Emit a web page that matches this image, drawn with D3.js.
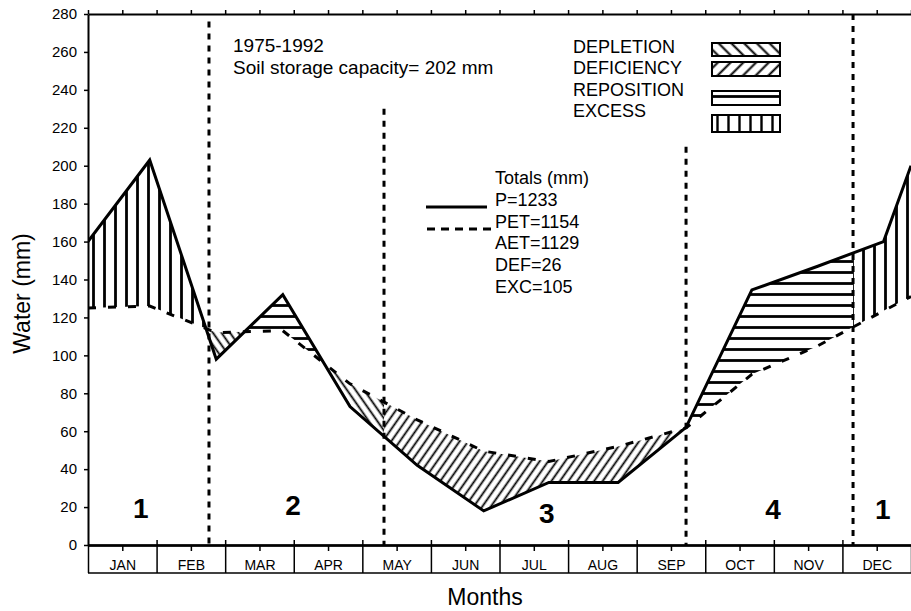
<!DOCTYPE html>
<html>
<head>
<meta charset="utf-8">
<script src="https://cdn.jsdelivr.net/npm/d3@7"></script>
<style>
  body { margin: 0; background: #fff; }
  text { font-family: "Liberation Sans", Arial, sans-serif; fill: #000; }
</style>
</head>
<body>
<div id="chart"></div>
<script>
// water balance, 1975-1992
var months = ["JAN", "FEB", "MAR", "APR", "MAY", "JUN", "JUL", "AUG", "SEP", "OCT", "NOV", "DEC"];

// where each observation sits along the axis (months from 1 Jan)
var obsMonth = [0, 0.9, 1.87, 2.84, 3.82, 4.8, 5.77, 6.72, 7.73, 8.72, 9.68, 10.64, 11.6, 12];
var precip = [160, 203, 98, 132, 73, 42, 18, 33, 33, 62, 134.5, 147, 160, 200];
var pet = [125, 126, 112, 113, 85, 66, 49.5, 44, 52, 61.7, 90, 105, 123.5, 131];

var yTicks = [0, 20, 40, 60, 80, 100, 120, 140, 160, 180, 200, 220, 240, 260, 280];

// periods of the balance, split by the dashed dividers
var periodEdge = [0, 1.764, 4.316, 8.72, 11.155, 12];
var periodName = ["1", "2", "3", "4", "1"];
var dividerTop = [276, 230, 210, 280];
var surplusKind = ["excess", "reposition", "reposition", "reposition", "excess"];
var deficitKind = ["depletion", "depletion", "deficiency", "deficiency", "depletion"];

var legendNames = ["DEPLETION", "DEFICIENCY", "REPOSITION", "EXCESS"];
var legendKinds = ["depletion", "deficiency", "reposition", "excess"];
var totalsText = ["Totals (mm)", "P=1233", "PET=1154", "AET=1129", "DEF=26", "EXC=105"];
var notes = ["1975-1992", "Soil storage capacity= 202 mm"];

var W = 911, H = 611;
var margin = {top: 14, right: 0, bottom: 66, left: 88};
var width = W - margin.left - margin.right,
    height = H - margin.top - margin.bottom;

var svg = d3.select("#chart").append("svg")
    .attr("width", W)
    .attr("height", H);

var defs = svg.append("defs");

function hatch(id, angle, gap, w) {
  var p = defs.append("pattern")
      .attr("id", id)
      .attr("patternUnits", "userSpaceOnUse")
      .attr("width", gap)
      .attr("height", gap)
      .attr("patternTransform", "rotate(" + angle + ")");
  p.append("line")
      .attr("x1", gap / 2).attr("x2", gap / 2)
      .attr("y1", 0).attr("y2", gap)
      .attr("stroke", "#000")
      .attr("stroke-width", w);
}
hatch("excess", 0, 11, 2.8);
hatch("reposition", 90, 11, 2.8);
hatch("deficiency", 35, 7, 1.8);
hatch("depletion", -35, 7, 1.8);
hatch("lg-depletion", -45, 9, 2);
hatch("lg-deficiency", 45, 9, 2);
hatch("lg-reposition", 90, 11, 2.8);
hatch("lg-excess", 0, 11, 2.4);

defs.append("clipPath").attr("id", "plot-clip")
  .append("rect").attr("width", width).attr("height", height);

var g = svg.append("g").attr("transform", "translate(" + margin.left + "," + margin.top + ")");

var x = d3.scaleLinear().domain([0, 12]).range([0, width]);
var y = d3.scaleLinear().domain([0, 280]).range([height, 0]);

function valueAt(arr, m) {
  for (var i = 0; i < obsMonth.length - 1; i++) {
    if (m >= obsMonth[i] && m <= obsMonth[i + 1]) {
      var t = (m - obsMonth[i]) / (obsMonth[i + 1] - obsMonth[i]);
      return arr[i] + t * (arr[i + 1] - arr[i]);
    }
  }
  return arr[arr.length - 1];
}

// break points: observations, P/PET crossings and period edges
var breaks = obsMonth.slice();
for (var i = 0; i < obsMonth.length - 1; i++) {
  var d0 = precip[i] - pet[i], d1 = precip[i + 1] - pet[i + 1];
  if (d0 * d1 < 0) {
    breaks.push(obsMonth[i] + d0 / (d0 - d1) * (obsMonth[i + 1] - obsMonth[i]));
  }
}
breaks = breaks.concat(periodEdge).sort(function(a, b) { return a - b; });

var area = d3.area()
    .x(function(d) { return x(d.m); })
    .y0(function(d) { return y(d.lo); })
    .y1(function(d) { return y(d.hi); });

var fills = g.append("g").attr("clip-path", "url(#plot-clip)");

for (var k = 0; k < periodName.length; k++) {
  var a = periodEdge[k], b = periodEdge[k + 1];
  var ms = breaks.filter(function(m) { return m >= a && m <= b; });
  var pts = ms.map(function(m) { return {m: m, p: valueAt(precip, m), e: valueAt(pet, m)}; });

  fills.append("path")
      .datum(pts.map(function(d) { return {m: d.m, lo: d.e, hi: Math.max(d.p, d.e)}; }))
      .attr("d", area)
      .attr("fill", "url(#" + surplusKind[k] + ")");

  fills.append("path")
      .datum(pts.map(function(d) { return {m: d.m, lo: Math.min(d.p, d.e), hi: d.e}; }))
      .attr("d", area)
      .attr("fill", "url(#" + deficitKind[k] + ")");
}

var line = d3.line()
    .x(function(d, i) { return x(obsMonth[i]); })
    .y(function(d) { return y(d); });

fills.append("path")
    .datum(pet)
    .attr("d", line)
    .attr("fill", "none")
    .attr("stroke", "#000")
    .attr("stroke-width", 3)
    .attr("stroke-dasharray", "8,12");

fills.append("path")
    .datum(precip)
    .attr("d", line)
    .attr("fill", "none")
    .attr("stroke", "#000")
    .attr("stroke-width", 3)
    .attr("stroke-linejoin", "miter");

// dashed dividers between periods
g.append("g").selectAll("line")
  .data(periodEdge.slice(1, -1))
  .enter().append("line")
    .attr("x1", function(d) { return x(d); })
    .attr("x2", function(d) { return x(d); })
    .attr("y1", function(d, i) { return y(dividerTop[i]); })
    .attr("y2", y(0))
    .attr("stroke", "#000")
    .attr("stroke-width", 3)
    .attr("stroke-dasharray", "6,6");

// period numbers
var labelMonth = [0.77, 2.99, 6.69, 9.99, 11.59];
var labelBase = [518, 515, 523, 519, 519];
g.append("g").selectAll("text")
  .data(periodName)
  .enter().append("text")
    .attr("x", function(d, i) { return x(labelMonth[i]); })
    .attr("y", function(d, i) { return labelBase[i] - margin.top; })
    .attr("text-anchor", "middle")
    .attr("font-size", 28)
    .attr("font-weight", "bold")
    .text(function(d) { return d; });

// axes
var yAxis = g.append("g")
    .call(d3.axisLeft(y).tickValues(yTicks).tickSize(4).tickSizeOuter(0).tickPadding(7));
yAxis.selectAll("text").attr("font-size", 15);

var topAxis = g.append("g")
    .call(d3.axisTop(x).tickValues(d3.range(0, 12.01, 0.5)).tickSize(4).tickSizeOuter(0).tickFormat(""));

var boxAxis = g.append("g")
    .attr("transform", "translate(0," + height + ")")
    .call(d3.axisBottom(x).tickValues(d3.range(0, 13)).tickSize(28).tickSizeOuter(0).tickFormat(""));

var upAxis = g.append("g")
    .attr("transform", "translate(0," + height + ")")
    .call(d3.axisTop(x).tickValues(d3.range(1, 12)).tickSize(5).tickSizeOuter(0).tickFormat(""));

var monthAxis = g.append("g")
    .attr("transform", "translate(0," + height + ")")
    .call(d3.axisBottom(x)
      .tickValues(months.map(function(d, i) { return i + 0.5; }))
      .tickFormat(function(d, i) { return months[i]; })
      .tickSize(6).tickSizeOuter(0).tickPadding(9));
monthAxis.selectAll("text").attr("font-size", 14);

g.append("line")
    .attr("x1", 0).attr("x2", width)
    .attr("y1", height + 28).attr("y2", height + 28)
    .attr("stroke", "#000").attr("stroke-width", 1.5);

g.selectAll(".domain").attr("stroke-width", 2);
g.selectAll(".tick line").attr("stroke-width", 1.5);
g.selectAll(".tick text").attr("font-family", "Liberation Sans, Arial, sans-serif");

// axis titles
svg.append("text")
    .attr("transform", "translate(30," + (margin.top + height / 2 + 14) + ") rotate(-90)")
    .attr("text-anchor", "middle")
    .attr("font-size", 23)
    .text("Water (mm)");

svg.append("text")
    .attr("x", 485)
    .attr("y", 605)
    .attr("text-anchor", "middle")
    .attr("font-size", 23)
    .text("Months");

// notes
svg.append("g").selectAll("text")
  .data(notes)
  .enter().append("text")
    .attr("x", 233)
    .attr("y", function(d, i) { return 52 + i * 22; })
    .attr("font-size", 19)
    .text(function(d) { return d; });

// pattern legend
var legend = svg.append("g").selectAll("g")
  .data(legendNames)
  .enter().append("g");

legend.append("text")
    .attr("x", 573)
    .attr("y", function(d, i) { return 53 + i * 21.3; })
    .attr("font-size", 18)
    .text(function(d) { return d; });

var boxY = [43, 62, 91, 115], boxH = [13, 14, 14, 17];
legend.append("g")
    .attr("transform", function(d, i) { return "translate(712," + boxY[i] + ")"; })
  .append("rect")
    .attr("width", 68)
    .attr("height", function(d, i) { return boxH[i]; })
    .attr("fill", function(d, i) { return "url(#lg-" + legendKinds[i] + ")"; })
    .attr("stroke", "#000")
    .attr("stroke-width", 2);

// totals legend
svg.append("g").selectAll("text")
  .data(totalsText)
  .enter().append("text")
    .attr("x", 495)
    .attr("y", function(d, i) { return 184 + i * 21.8; })
    .attr("font-size", 18)
    .text(function(d) { return d; });

svg.append("line")
    .attr("x1", 426).attr("x2", 487)
    .attr("y1", 207).attr("y2", 207)
    .attr("stroke", "#000").attr("stroke-width", 3);

svg.append("line")
    .attr("x1", 427).attr("x2", 491)
    .attr("y1", 229).attr("y2", 229)
    .attr("stroke", "#000").attr("stroke-width", 3)
    .attr("stroke-dasharray", "8,6");
</script>
</body>
</html>
